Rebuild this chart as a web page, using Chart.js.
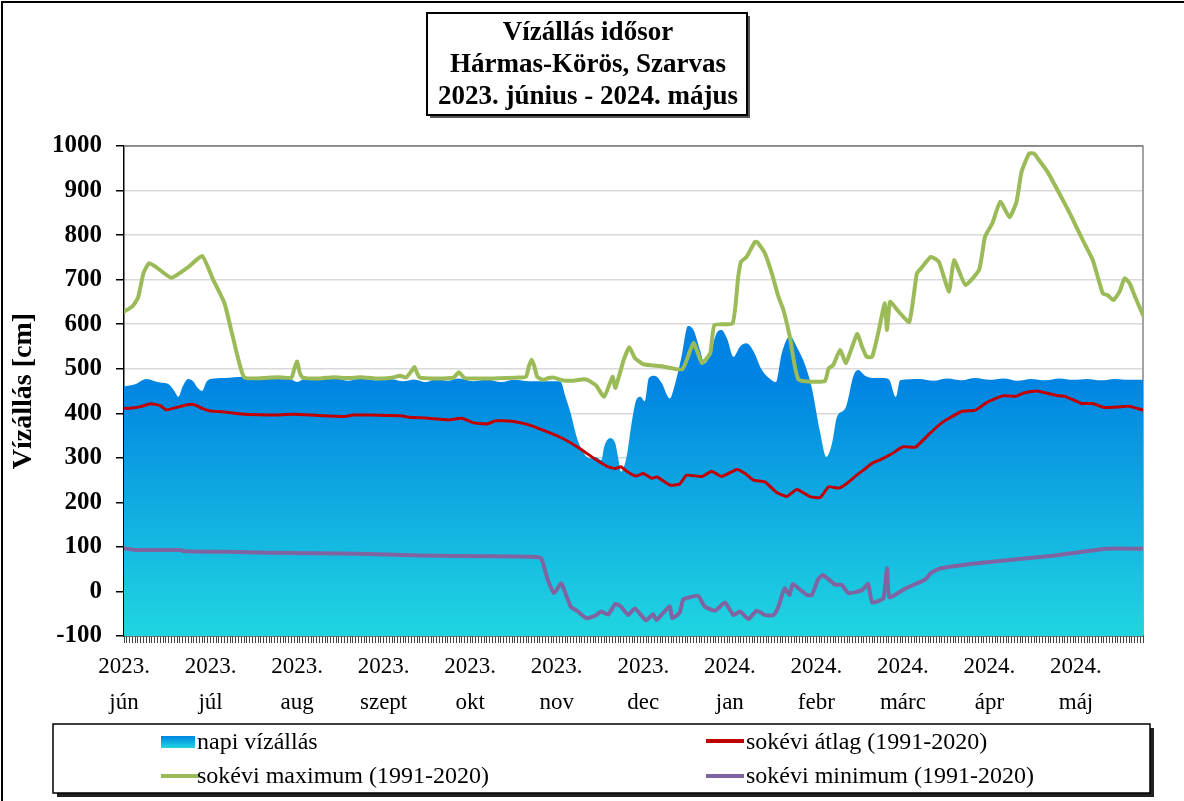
<!DOCTYPE html>
<html>
<head>
<meta charset="utf-8">
<script src="https://cdn.jsdelivr.net/npm/chart.js@4.4.1/dist/chart.umd.min.js"></script>
<style>
  html, body { margin: 0; padding: 0; background: #fff; }
</style>
</head>
<body>
<canvas id="chart" width="1184" height="801"></canvas>
<script>
// x tengely: napok 2023.06.01-tol (0) 2024.05.31-ig (365), felirat minden 31. napnal
const monthLabels = [
    ['2023.', 'jún'], ['2023.', 'júl'], ['2023.', 'aug'], ['2023.', 'szept'],
    ['2023.', 'okt'], ['2023.', 'nov'], ['2023.', 'dec'], ['2024.', 'jan'],
    ['2024.', 'febr'], ['2024.', 'márc'], ['2024.', 'ápr'], ['2024.', 'máj']
];
const labelEvery = 31;
const dayCount = 366;

// napi vízállás [cm]
const stageDays = [0, 4, 8, 11, 13, 16, 18, 19.5, 21, 23, 25, 26, 28, 29.5, 31, 36, 43, 50, 55, 60, 62, 65, 70, 75, 80,
    85, 90, 95, 100, 104, 108, 112, 116, 120, 125, 130, 135, 140, 145, 149, 155, 156.5, 158, 160, 162, 164, 167,
    169, 171, 172, 174, 176, 177, 178, 180, 182, 183.5, 185, 186.5, 188, 190, 192.5, 195.5, 197.3, 199.7, 202,
    204, 206.3, 208, 210, 212.3, 214, 216, 218.3, 220.7, 223, 225.5, 228.4, 232, 233.5, 235.6, 238.6, 241, 244,
    246.4, 249.4, 251.6, 253.6, 255.4, 258.4, 261.4, 263, 265.5, 268, 271.5, 274, 276.5, 278, 285, 290, 295, 300,
    305, 310, 315, 320, 325, 330, 335, 340, 345, 350, 355, 360, 365];
const stageValues = [460, 465, 477, 472, 469, 465, 450, 437, 460, 477, 470, 460, 450, 470, 477, 479, 482, 478, 480, 476, 470, 478, 475, 479, 473,
    478, 474, 477, 472, 476, 470, 477, 473, 478, 472, 476, 470, 475, 472, 472, 472, 470, 440, 400, 350, 317, 299,
    302, 295, 325, 344, 332, 300, 269, 302, 385, 430, 437, 427, 479, 484, 469, 433, 464, 527, 596,
    587, 542, 512, 535, 580, 587, 568, 527, 550, 557, 539, 498, 474, 470, 535, 573, 549, 508,
    456, 355, 302, 332, 392, 411, 486, 497, 484, 479, 479, 476, 437, 474, 477, 473, 478, 474,
    479, 475, 478, 473, 477, 474, 478, 475, 477, 474, 477, 475, 475];

// sokévi átlag (1991-2020)
const avgDays = [0, 3, 6, 9, 11, 13, 15, 17, 20, 24, 26, 28, 31, 34, 37, 41, 45, 53, 61, 70, 79, 82, 88, 95, 100, 102,
    109, 116, 121, 125, 130, 133, 136, 141, 145, 151, 157, 163, 169, 173, 176, 178, 180, 183.5, 186, 189, 191,
    195.5, 199, 201.5, 207, 210.5, 214, 219.5, 222.5, 225.5, 229.6, 233.8, 237.4, 241, 245.8, 249.4, 252.4, 256,
    259, 262, 265.6, 268, 271, 275, 279, 283.5, 288, 293, 300, 305, 309, 314.7, 319.4, 322, 327, 334, 337, 343,
    347, 351, 356, 360, 365];
const avgValues = [411, 412, 415, 421, 420, 417, 408, 410, 415, 420, 417, 411, 405, 404, 402, 399, 397, 396, 398, 395, 393, 396, 396, 395, 394, 391,
    389, 385, 389, 379, 376, 383, 383, 380, 374, 360, 344, 322, 296, 281, 276, 280, 270, 259, 265, 254, 257,
    239, 241, 261, 258, 270, 258, 274, 265, 250, 246, 222, 213, 229, 213, 211, 235, 232,
    243, 259, 276, 288, 296, 309, 325, 324, 351, 379, 404, 407, 424, 439, 438, 445, 450, 440, 438, 422,
    422, 413, 414, 416, 407];

// sokévi maximum (1991-2020)
const maxDays = [0, 3, 5, 7, 9, 12, 17, 23, 28, 32, 36, 39, 43, 50, 55, 60, 61, 62, 63, 64, 70, 75, 80, 85, 90, 96,
    99, 101, 103, 104, 105, 106, 112, 118, 120, 122, 130, 140, 144, 145, 146, 147, 148, 150, 152, 154, 157, 161,
    164, 166, 169, 172, 175, 176, 179, 181, 183, 186, 192, 200, 204, 207, 210, 211.5, 218, 220, 221, 223, 226,
    227, 229.5, 232, 234.4, 236.2, 238.5, 241.6, 251, 252.4, 254, 256.5, 258.6, 262.6, 264.4, 266, 268, 270.5,
    272.5, 273.3, 274.4, 277.5, 281.3, 284, 285.6, 289, 291.9, 295.5, 297.3, 301.4, 306.3, 308.4, 311, 313.9,
    317.2, 319.7, 321.5, 324.2, 326, 327.8, 330.8, 335, 339.1, 343.4, 347, 350.6, 352.4, 354.4, 356.6, 358.4,
    360.2, 362.4, 365];
const maxValues = [628, 640, 659, 715, 737, 726, 704, 728, 753, 699, 647, 571, 481, 479, 481, 480, 500, 516, 490, 480, 478, 481, 479, 481, 478, 480,
    484, 480, 495, 504, 490, 480, 478, 480, 492, 479, 478, 480, 482, 505, 520, 505, 482, 475, 479, 480, 474, 473,
    476, 475, 463, 437, 482, 457, 520, 548, 524, 510, 506, 499, 558, 513, 535, 598, 602, 706, 740, 751, 785,
    783, 760, 715, 662, 632, 572, 476, 472, 501, 508, 542, 513, 578, 549, 527, 527, 590,
    647, 587, 650, 628, 605, 714, 726, 751, 740, 673, 744, 688, 722, 796, 826, 875,
    840, 875, 942, 983, 983, 968, 942, 894, 845, 789, 744, 669, 665, 654, 673, 703,
    692, 658, 620];

// sokévi minimum (1991-2020)
const minDays = [0, 4, 20, 22, 37, 52, 69, 88, 100, 113, 130, 146, 149.4, 151.8, 154, 156.6, 160, 162.6, 165.6, 168.6,
    171, 173.4, 176, 178, 180.6, 183, 187, 189.5, 190.7, 193, 195.5, 196.4, 199, 200.3, 202.7, 205.7, 208, 211.7,
    215.3, 218.3, 220.7, 223.7, 226.6, 229.6, 232.7, 234.4, 236.6, 238.4, 239.5, 244.6, 246.4, 248.6, 250.3,
    254.8, 257, 259.6, 264.4, 266.5, 268, 272, 273.3, 274.2, 280, 287, 289, 292, 304, 318, 332.6, 342, 351.8, 365];
const minValues = [97, 93, 93, 90, 89, 87, 86, 84, 82, 80, 79, 78, 75, 26, -4, 18, -34, -45, -60, -55,
    -45, -52, -28, -34, -53, -38, -65, -51, -64, -49, -33, -60, -48, -18, -13, -10, -34, -43,
    -25, -53, -45, -62, -43, -53, -53, -34, 7, -8, 17, -8, -8, 27, 37,
    15, 15, -4, 3, 17, -25, -15, 52, -13, 7, 27, 41, 51, 62, 71, 80, 88, 96, 96];

const titleLines = ['Vízállás idősor', 'Hármas-Körös, Szarvas', '2023. június - 2024. május'];
const seriesNames = ['napi vízállás', 'sokévi átlag (1991-2020)', 'sokévi maximum (1991-2020)', 'sokévi minimum (1991-2020)'];

const serif = "'Liberation Serif', 'Times New Roman', serif";
const blueTop = '#0083E2';
const blueBottom = '#20D6E0';

function toPoints(days, values) {
    return days.map((d, i) => ({ x: d, y: values[i] }));
}

function stageGradient(context) {
    const chart = context.chart;
    const { ctx, chartArea, scales } = chart;
    if (!chartArea) return blueTop;
    const g = ctx.createLinearGradient(0, scales.y.getPixelForValue(480), 0, chartArea.bottom);
    g.addColorStop(0, blueTop);
    g.addColorStop(1, blueBottom);
    return g;
}

// kulso keret, cim doboz, plot keret
const framePlugin = {
    id: 'frame',
    beforeDraw(chart) {
        const ctx = chart.ctx;
        ctx.save();
        ctx.fillStyle = '#fff';
        ctx.fillRect(0, 0, chart.width, chart.height);
        ctx.strokeStyle = '#000';
        ctx.lineWidth = 2;
        ctx.beginPath();
        ctx.moveTo(2, chart.height);
        ctx.lineTo(2, 2);
        ctx.lineTo(chart.width, 2);
        ctx.stroke();

        // cim doboz
        ctx.fillStyle = '#555';
        ctx.fillRect(430, 16, 320, 102);
        ctx.fillStyle = '#fff';
        ctx.fillRect(427, 13, 320, 102);
        ctx.lineWidth = 2;
        ctx.strokeRect(427, 13, 320, 102);
        ctx.fillStyle = '#000';
        ctx.font = 'bold 27px ' + serif;
        ctx.textAlign = 'center';
        ctx.textBaseline = 'middle';
        titleLines.forEach((t, i) => ctx.fillText(t, 588, 33 + i * 32));
        ctx.restore();
    },
    beforeDatasetsDraw(chart) {
        const { ctx, chartArea } = chart;
        ctx.save();
        ctx.strokeStyle = '#868686';
        ctx.lineWidth = 1.5;
        ctx.beginPath();
        ctx.moveTo(chartArea.left, chartArea.top);
        ctx.lineTo(chartArea.right, chartArea.top);
        ctx.lineTo(chartArea.right, chartArea.bottom);
        ctx.stroke();
        ctx.restore();
    }
};

// jelmagyarazat 2x2 elrendezesben
const legendPlugin = {
    id: 'boxLegend',
    afterDraw(chart) {
        const ctx = chart.ctx;
        const box = { x: 53, y: 724, w: 1097, h: 69 };
        ctx.save();
        ctx.fillStyle = '#222';
        ctx.fillRect(box.x + 4, box.y + 4, box.w, box.h);
        ctx.fillStyle = '#fff';
        ctx.fillRect(box.x, box.y, box.w, box.h);
        ctx.strokeStyle = '#000';
        ctx.lineWidth = 1.5;
        ctx.strokeRect(box.x, box.y, box.w, box.h);

        const g = ctx.createLinearGradient(0, 736, 0, 748);
        g.addColorStop(0, blueTop);
        g.addColorStop(1, blueBottom);
        ctx.fillStyle = g;
        ctx.fillRect(161, 736, 34, 12);

        const lines = [
            { x: 706, y: 741, color: '#C00000' },
            { x: 161, y: 776, color: '#9BBB59' },
            { x: 706, y: 776, color: '#8064A2' }
        ];
        ctx.lineWidth = 4;
        lines.forEach(l => {
            ctx.strokeStyle = l.color;
            ctx.beginPath();
            ctx.moveTo(l.x, l.y);
            ctx.lineTo(l.x + 38, l.y);
            ctx.stroke();
        });

        ctx.fillStyle = '#000';
        ctx.font = '24px ' + serif;
        ctx.textAlign = 'left';
        ctx.textBaseline = 'middle';
        ctx.fillText(seriesNames[0], 197, 743);
        ctx.fillText(seriesNames[1], 746, 743);
        ctx.fillText(seriesNames[2], 197, 777);
        ctx.fillText(seriesNames[3], 746, 777);
        ctx.restore();
    }
};

const lineStyle = {
    pointRadius: 0,
    fill: false,
    tension: 0.15,
    borderJoinStyle: 'round',
    borderCapStyle: 'round'
};

const chartData = {
    datasets: [
        Object.assign({
            label: seriesNames[3],
            data: toPoints(minDays, minValues),
            borderColor: '#8064A2',
            borderWidth: 4,
            order: 2
        }, lineStyle),
        Object.assign({
            label: seriesNames[1],
            data: toPoints(avgDays, avgValues),
            borderColor: '#C00000',
            borderWidth: 3,
            order: 3
        }, lineStyle),
        Object.assign({
            label: seriesNames[2],
            data: toPoints(maxDays, maxValues),
            borderColor: '#9BBB59',
            borderWidth: 4,
            order: 1
        }, lineStyle),
        {
            label: seriesNames[0],
            data: toPoints(stageDays, stageValues),
            borderWidth: 0,
            borderColor: 'rgba(0,0,0,0)',
            backgroundColor: stageGradient,
            pointRadius: 0,
            fill: 'start',
            cubicInterpolationMode: 'monotone',
            order: 4
        }
    ]
};

const chartConfig = {
    type: 'line',
    data: chartData,
    options: {
        responsive: false,
        animation: false,
        layout: { padding: { top: 146, right: 41, left: 0, bottom: 0 } },
        plugins: {
            legend: { display: false },
            title: { display: false },
            tooltip: { enabled: false }
        },
        scales: {
            x: {
                type: 'linear',
                min: 0,
                max: dayCount - 1,
                afterFit: function (scale) { scale.height = 165; },
                afterBuildTicks: function (scale) {
                    const ticks = [];
                    for (let d = 0; d < dayCount; d++) ticks.push({ value: d });
                    scale.ticks = ticks;
                },
                grid: {
                    drawOnChartArea: false,
                    drawTicks: true,
                    tickLength: 7,
                    color: '#444',
                    lineWidth: 1
                },
                border: { display: true, color: '#000', width: 1.5 },
                ticks: {
                    autoSkip: false,
                    maxRotation: 0,
                    minRotation: 0,
                    padding: 6,
                    color: '#000',
                    font: { family: serif, size: 23, lineHeight: 1.55 },
                    callback: function (value) {
                        if (value % labelEvery === 0 && value / labelEvery < monthLabels.length) {
                            return monthLabels[value / labelEvery];
                        }
                        return '';
                    }
                }
            },
            y: {
                min: -100,
                max: 1000,
                afterFit: function (scale) { scale.width = 124; },
                grid: {
                    color: function (ctx) { return ctx.tick.value === 1000 ? '#868686' : '#D9D9D9'; },
                    lineWidth: 1.5,
                    tickColor: '#000',
                    tickLength: 8
                },
                border: { display: true, color: '#000', width: 1.5 },
                ticks: {
                    stepSize: 100,
                    padding: 14,
                    color: '#000',
                    font: { family: serif, size: 25, weight: 'bold' },
                    callback: function (value) { return String(value); }
                },
                title: {
                    display: true,
                    text: 'Vízállás [cm]',
                    color: '#000',
                    padding: { top: 7, bottom: 0 },
                    font: { family: serif, size: 28, weight: 'bold' }
                }
            }
        }
    },
    plugins: [framePlugin, legendPlugin]
};

new Chart(document.getElementById('chart').getContext('2d'), chartConfig);
</script>
</body>
</html>
